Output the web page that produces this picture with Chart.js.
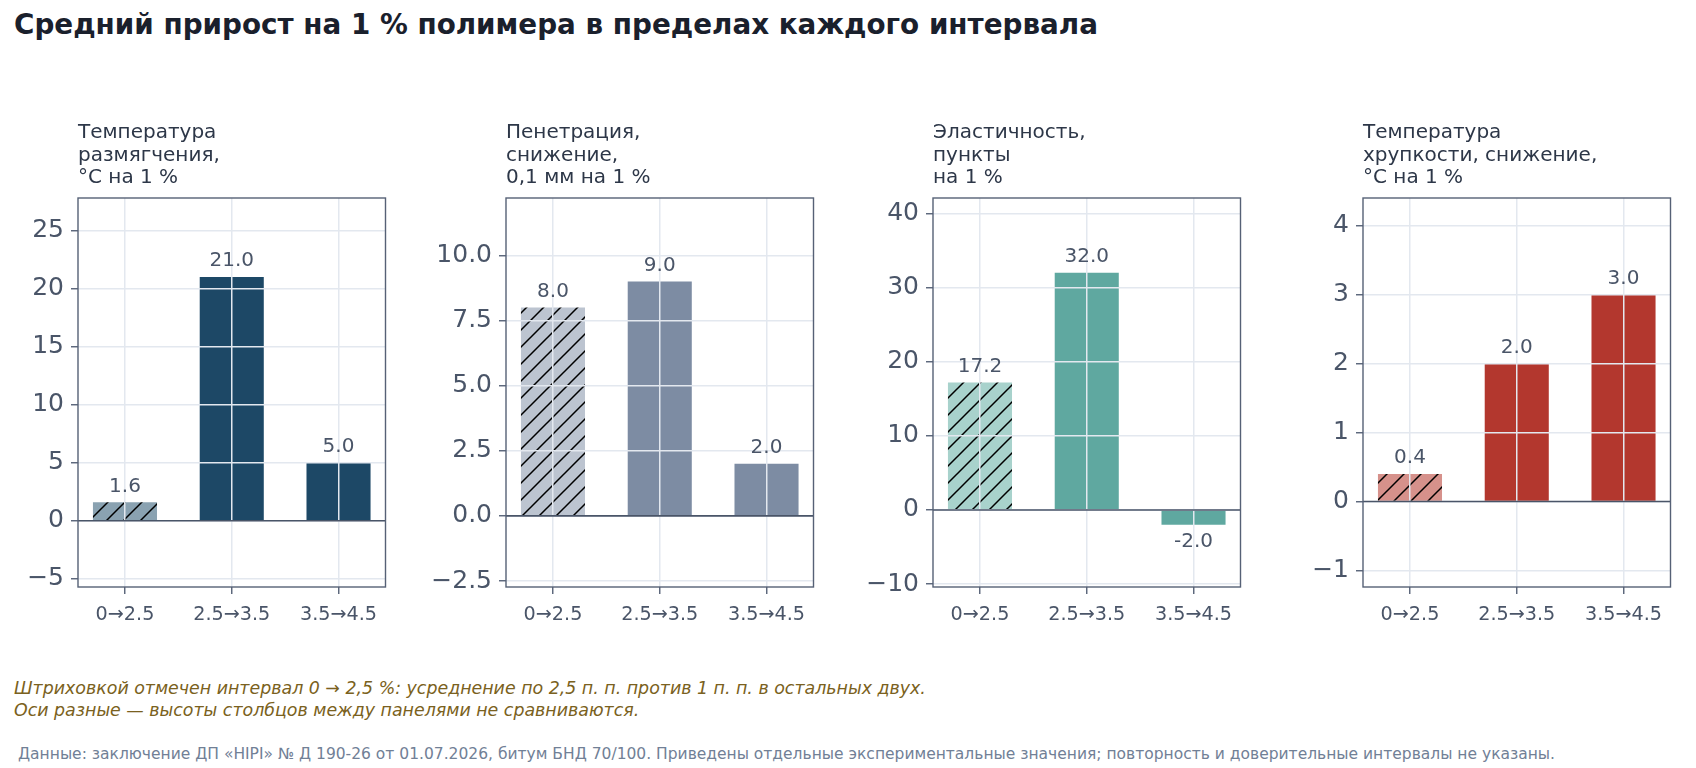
<!DOCTYPE html>
<html lang="ru">
<head>
<meta charset="utf-8">
<title>Средний прирост на 1 % полимера</title>
<script src="https://cdn.jsdelivr.net/npm/chart.js@4.4.1/dist/chart.umd.min.js"></script>
<style>
  body { margin: 0; background: #fff; width: 1696px; height: 768px; position: relative; overflow: hidden; font-family: 'DejaVu Sans', sans-serif; }
  .title { position: absolute; left: 14px; top: 9px; font-size: 27.8px; line-height: 32px; font-weight: bold; color: #1a202c; white-space: nowrap; }
  .panel { position: absolute; top: 100px; }
  .note { position: absolute; left: 14px; top: 678px; font-size: 17.4px; line-height: 21.6px; font-style: italic; color: #7a6120; white-space: nowrap; }
  .source { position: absolute; left: 18px; top: 745px; font-size: 15.5px; line-height: 18px; color: #718096; white-space: nowrap; }
</style>
</head>
<body>
<div class="title">Средний прирост на 1 % полимера в пределах каждого интервала</div>
<canvas id="softening" class="panel" width="396" height="540" style="left:0px"></canvas>
<canvas id="penetration" class="panel" width="396" height="540" style="left:428px"></canvas>
<canvas id="elasticity" class="panel" width="396" height="540" style="left:855px"></canvas>
<canvas id="brittleness" class="panel" width="396" height="540" style="left:1285px"></canvas>
<div class="note">Штриховкой отмечен интервал 0 → 2,5 %: усреднение по 2,5 п. п. против 1 п. п. в остальных двух.<br>Оси разные — высоты столбцов между панелями не сравниваются.</div>
<div class="source">Данные: заключение ДП «HIPI» № Д 190-26 от 01.07.2026, битум БНД 70/100. Приведены отдельные экспериментальные значения; повторность и доверительные интервалы не указаны.</div>
<script>
// intervals of polymer content, %
const intervals = ['0→2.5', '2.5→3.5', '3.5→4.5'];

const softeningTitle = ['Температура', 'размягчения,', '°C на 1 %'];
const softeningValues = [1.6, 21.0, 5.0];
const softeningTicks = [-5, 0, 5, 10, 15, 20, 25];
const softeningRange = [-5.7, 27.8];

const penetrationTitle = ['Пенетрация,', 'снижение,', '0,1 мм на 1 %'];
const penetrationValues = [8.0, 9.0, 2.0];
const penetrationTicks = [-2.5, 0, 2.5, 5, 7.5, 10];
const penetrationRange = [-2.73, 12.2];

const elasticityTitle = ['Эластичность,', 'пункты', 'на 1 %'];
const elasticityValues = [17.2, 32.0, -2.0];
const elasticityTicks = [-10, 0, 10, 20, 30, 40];
const elasticityRange = [-10.4, 42.1];

const brittlenessTitle = ['Температура', 'хрупкости, снижение,', '°C на 1 %'];
const brittlenessValues = [0.4, 2.0, 3.0];
const brittlenessTicks = [-1, 0, 1, 2, 3, 4];
const brittlenessRange = [-1.24, 4.4];

Chart.defaults.font.family = "'DejaVu Sans', sans-serif";

const FRAME = '#566176';
const GRID = '#e3e8ef';
const TEXT = '#4a5568';

function hatch(fill) {
  const s = 17;
  const c = document.createElement('canvas');
  c.width = s; c.height = s;
  const g = c.getContext('2d');
  g.fillStyle = fill;
  g.fillRect(0, 0, s, s);
  g.strokeStyle = '#000';
  g.lineWidth = 1.5;
  g.beginPath();
  g.moveTo(-2, s + 2); g.lineTo(s + 2, -2);
  g.moveTo(-2, 2); g.lineTo(2, -2);
  g.moveTo(s - 2, s + 2); g.lineTo(s + 2, s - 2);
  g.stroke();
  return g.createPattern(c, 'repeat');
}

function fmtTick(v, decimals) {
  return v.toFixed(decimals).replace('-', '\u2212');
}

// zero line, frame around the axes and value labels on top
const panelDecor = {
  id: 'panelDecor',
  afterDraw(chart) {
    const { ctx, chartArea: a, scales: { y } } = chart;
    ctx.save();
    const y0 = y.getPixelForValue(0);
    ctx.strokeStyle = '#4a5568';
    ctx.lineWidth = 1.6;
    ctx.beginPath();
    ctx.moveTo(a.left, y0);
    ctx.lineTo(a.right, y0);
    ctx.stroke();

    ctx.strokeStyle = FRAME;
    ctx.lineWidth = 1.4;
    ctx.strokeRect(a.left, a.top, a.right - a.left, a.bottom - a.top);

    ctx.font = "20px 'DejaVu Sans'";
    ctx.fillStyle = TEXT;
    ctx.textAlign = 'center';
    ctx.textBaseline = 'alphabetic';
    const meta = chart.getDatasetMeta(0);
    meta.data.forEach((bar, i) => {
      const v = chart.data.datasets[0].data[i].y;
      const ty = v >= 0 ? bar.y - 10.5 : bar.y + 22;
      ctx.fillText(v.toFixed(1), bar.x, ty);
    });
    ctx.restore();
  }
};

function makePanel(id, title, values, ticks, range, decimals, color, light) {
  return new Chart(document.getElementById(id), {
    type: 'bar',
    data: {
      datasets: [{
        data: values.map((v, i) => ({ x: i, y: v })),
        backgroundColor: values.map((v, i) => i === 0 ? hatch(light) : color),
        borderWidth: 0,
        barPercentage: 0.6,
        categoryPercentage: 1.0,
      }],
    },
    options: {
      responsive: false,
      animation: false,
      events: [],
      devicePixelRatio: 1,
      layout: { padding: { top: 0, right: 10.5, bottom: 0, left: 0 } },
      plugins: {
        legend: { display: false },
        tooltip: { enabled: false },
        title: {
          display: true,
          text: title,
          align: 'start',
          fullSize: false,
          color: '#2d3748',
          font: { size: 20, weight: 'normal', lineHeight: 1.115 },
          padding: { top: 21.9, bottom: 9.2 },
        },
      },
      scales: {
        x: {
          type: 'linear',
          min: -0.44,
          max: 2.44,
          offset: false,
          bounds: 'data',
          afterBuildTicks: (s) => { s.ticks = intervals.map((_, i) => ({ value: i })); },
          afterFit: (s) => { s.height = 53; },
          ticks: {
            callback: (v) => intervals[v],
            color: TEXT,
            font: { size: 19.2 },
            padding: 9,
            maxRotation: 0,
            autoSkip: false,
          },
          grid: { offset: false, z: 1, color: GRID, lineWidth: 1.5, tickColor: FRAME, tickLength: 7, tickWidth: 1.4 },
          border: { display: false },
        },
        y: {
          type: 'linear',
          min: range[0],
          max: range[1],
          bounds: 'data',
          afterBuildTicks: (s) => { s.ticks = ticks.map((v) => ({ value: v })); },
          afterFit: (s) => { s.width = 78; },
          ticks: {
            callback: (v) => fmtTick(v, decimals),
            color: TEXT,
            font: { size: 25 },
            padding: 7,
          },
          grid: { z: 1, color: GRID, lineWidth: 1.5, tickColor: FRAME, tickLength: 7, tickWidth: 1.4 },
          border: { display: false },
        },
      },
    },
    plugins: [panelDecor],
  });
}

makePanel('softening', softeningTitle, softeningValues, softeningTicks, softeningRange, 0, '#1d4866', '#8aa2b1');
makePanel('penetration', penetrationTitle, penetrationValues, penetrationTicks, penetrationRange, 1, '#7d8ca3', '#bcc4d0');
makePanel('elasticity', elasticityTitle, elasticityValues, elasticityTicks, elasticityRange, 0, '#5fa8a0', '#a8d2cc');
makePanel('brittleness', brittlenessTitle, brittlenessValues, brittlenessTicks, brittlenessRange, 0, '#b3372e', '#d6918b');
</script>
</body>
</html>
